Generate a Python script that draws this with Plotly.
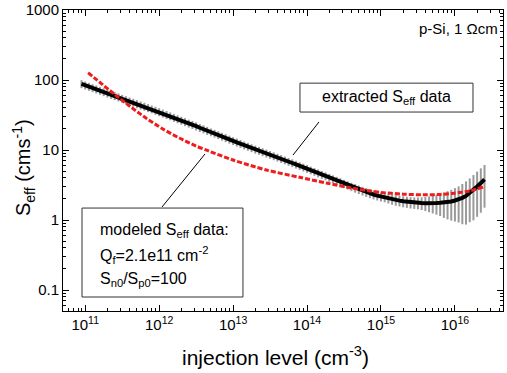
import plotly.graph_objects as go

# ---- data ----
# extracted S_eff: injection level exponents (log10 of cm^-3) and values (cm/s)
meas_exp = [10.95, 11.00, 11.05, 11.10, 11.15, 11.20, 11.25, 11.30, 11.35, 11.40, 11.45, 11.50,
            11.55, 11.60, 11.65, 11.70, 11.75, 11.80, 11.85, 11.90, 11.95, 12.00,
            12.05, 12.10, 12.15, 12.20, 12.25, 12.30, 12.35, 12.40, 12.45, 12.50,
            12.55, 12.60, 12.65, 12.70, 12.75, 12.80, 12.85, 12.90, 12.95, 13.00,
            13.05, 13.10, 13.15, 13.20, 13.25, 13.30, 13.35, 13.40, 13.45, 13.50,
            13.55, 13.60, 13.65, 13.70, 13.75, 13.80, 13.85, 13.90, 13.95, 14.00,
            14.05, 14.10, 14.15, 14.20, 14.25, 14.30, 14.35, 14.40, 14.45, 14.50,
            14.55, 14.60, 14.65, 14.70, 14.75, 14.80, 14.85, 14.90, 14.95, 15.00,
            15.05, 15.10, 15.15, 15.20, 15.25, 15.30, 15.35, 15.40, 15.45, 15.50,
            15.55, 15.60, 15.65, 15.70, 15.75, 15.80, 15.85, 15.90, 15.95, 16.00,
            16.05, 16.10, 16.15, 16.20, 16.25, 16.30, 16.35, 16.40]
meas_seff = [87.9, 84.1, 80.5, 77.1, 73.8, 70.6, 67.6, 64.7, 61.9, 59.3, 56.8, 54.3,
             52.0, 49.8, 47.6, 45.6, 43.6, 41.8, 40.0, 38.3, 36.6, 35.0,
             33.4, 31.9, 30.5, 29.0, 27.7, 26.4, 25.2, 24.0, 23.0, 21.9,
             20.8, 19.9, 18.9, 18.0, 17.2, 16.4, 15.6, 14.9, 14.2, 13.5,
             12.9, 12.3, 11.7, 11.2, 10.7, 10.2, 9.80, 9.38, 8.97, 8.58,
             8.20, 7.84, 7.49, 7.15, 6.83, 6.52, 6.22, 5.93, 5.66, 5.40,
             5.14, 4.90, 4.67, 4.45, 4.24, 4.04, 3.85, 3.66, 3.48, 3.31,
             3.15, 3.00, 2.86, 2.73, 2.61, 2.50, 2.40, 2.31, 2.23, 2.16,
             2.10, 2.04, 1.98, 1.93, 1.89, 1.85, 1.82, 1.79, 1.77, 1.76,
             1.75, 1.74, 1.73, 1.74, 1.75, 1.76, 1.77, 1.80, 1.84, 1.90,
             1.97, 2.07, 2.21, 2.43, 2.69, 3.01, 3.37, 3.80]
meas_err = [11.4, 10.9, 10.5, 10.0, 9.6, 9.2, 8.8, 8.5, 8.1, 7.7, 7.4, 7.0,
            6.8, 6.5, 6.2, 6.0, 5.7, 5.5, 5.2, 4.9, 4.8, 4.6,
            4.3, 4.2, 3.9, 3.8, 3.6, 3.4, 3.3, 3.1, 3.0, 2.9,
            2.7, 2.6, 2.5, 2.3, 2.2, 2.1, 2.0, 1.95, 1.85, 1.75,
            1.69, 1.60, 1.52, 1.46, 1.39, 1.33, 1.27, 1.21, 1.16, 1.10,
            1.05, 1.00, 0.96, 0.91, 0.87, 0.83, 0.79, 0.75, 0.72, 0.69,
            0.65, 0.62, 0.60, 0.57, 0.55, 0.52, 0.49, 0.48, 0.46, 0.44,
            0.42, 0.41, 0.40, 0.38, 0.37, 0.36, 0.35, 0.34, 0.33, 0.32,
            0.31, 0.32, 0.33, 0.33, 0.33, 0.33, 0.33, 0.33, 0.33, 0.34,
            0.36, 0.40, 0.44, 0.50, 0.56, 0.62, 0.70, 0.78, 0.86, 0.95,
            1.05, 1.20, 1.35, 1.50, 1.70, 1.90, 2.10, 2.30]

# modeled S_eff
model_exp = [11.04, 11.38, 11.61, 11.83, 12.05, 12.28, 12.50, 12.66, 13.0, 13.45,
             13.90, 14.28, 14.61, 15.0, 15.3, 15.57, 15.8, 15.97, 16.2, 16.38]
model_seff = [127, 64.6, 41.7, 28.2, 20.0, 14.7, 11.4, 9.77, 7.19, 5.18,
              4.07, 3.34, 2.85, 2.48, 2.34, 2.29, 2.32, 2.40, 2.60, 2.95]

x_decades = [11, 12, 13, 14, 15, 16]
y_ticks = [0.1, 1, 10, 100, 1000]
y_ticktext = ["0.1", "1", "10", "100", "1000"]

meas_x = [10 ** e for e in meas_exp]
model_x = [10 ** e for e in model_exp]

font = "Liberation Sans"

fig = go.Figure()
fig.add_trace(go.Scatter(
    x=meas_x, y=meas_seff, mode="lines",
    line=dict(color="black", width=4),
    error_y=dict(type="data", array=meas_err, color="#9a9a9a", thickness=2, width=0),
    showlegend=False))
fig.add_trace(go.Scatter(
    x=model_x, y=model_seff, mode="lines",
    line=dict(color="#ee1c1c", width=3, dash="5px,2px", shape="spline", smoothing=0.8),
    showlegend=False))

x_minor = [m * 10 ** d for d in range(10, 17) for m in range(2, 10)]
y_minor = [m * 10.0 ** d for d in range(-2, 3) for m in range(2, 10)]

fig.update_xaxes(
    type="log", range=[10.70, 16.65], automargin=False,
    tickmode="array", tickvals=[10 ** d for d in x_decades],
    ticktext=["10<sup>%d</sup>" % d for d in x_decades],
    ticks="inside", ticklen=6, tickwidth=1, tickcolor="black",
    minor=dict(tickmode="array", tickvals=x_minor, ticks="inside", ticklen=3,
               tickcolor="black", showgrid=False),
    showline=True, linecolor="black", linewidth=1, mirror="allticks",
    showgrid=False, zeroline=False,
    tickfont=dict(family=font, size=15, color="black"))
fig.update_yaxes(
    type="log", range=[-1.3, 3.0], automargin=False,
    tickmode="array", tickvals=y_ticks, ticktext=y_ticktext,
    ticks="inside", ticklen=6, tickwidth=1, tickcolor="black",
    minor=dict(tickmode="array", tickvals=y_minor, ticks="inside", ticklen=3,
               tickcolor="black", showgrid=False),
    showline=True, linecolor="black", linewidth=1, mirror="allticks",
    showgrid=False, zeroline=False,
    tickfont=dict(family=font, size=15, color="black"))

# boxes & leader lines (paper coords)
shapes = [
    dict(type="rect", xref="paper", yref="paper", x0=0.5386, x1=0.9318, y0=0.661, y1=0.757,
         line=dict(color="#333", width=1), fillcolor="white"),
    dict(type="rect", xref="paper", yref="paper", x0=0.0432, x1=0.409, y0=0.0465, y1=0.342,
         line=dict(color="#333", width=1), fillcolor="white"),
    dict(type="line", xref="paper", yref="paper", x0=0.5818, y0=0.628, x1=0.5227, y1=0.518,
         line=dict(color="black", width=1)),
    dict(type="line", xref="paper", yref="paper", x0=0.3227, y0=0.5216, x1=0.225, y1=0.3455,
         line=dict(color="black", width=1)),
]
fig.update_layout(shapes=shapes)

ann_font = dict(family=font, size=16, color="black")
annotations = [
    dict(text="extracted S<sub>eff</sub> data", x=0.735, y=0.709, xref="paper", yref="paper",
         showarrow=False, xanchor="center", yanchor="middle", font=ann_font),
    dict(text="modeled S<sub>eff</sub> data:", x=0.0795, y=0.269, xref="paper", yref="paper",
         showarrow=False, xanchor="left", yanchor="middle", font=ann_font),
    dict(text="Q<sub>f</sub>=2.1e11 cm<sup>-2</sup>", x=0.0795, y=0.186, xref="paper", yref="paper",
         showarrow=False, xanchor="left", yanchor="middle", font=ann_font),
    dict(text="S<sub>n0</sub>/S<sub>p0</sub>=100", x=0.0795, y=0.106, xref="paper", yref="paper",
         showarrow=False, xanchor="left", yanchor="middle", font=ann_font),
    dict(text="p-Si, 1 \u03a9cm", x=0.993, y=0.940, xref="paper", yref="paper",
         showarrow=False, xanchor="right", yanchor="middle",
         font=dict(family=font, size=15, color="black")),
    # axis titles
    dict(text="injection level (cm<sup>-3</sup>)", x=0.484, y=-0.150, xref="paper", yref="paper",
         showarrow=False, xanchor="center", yanchor="middle",
         font=dict(family=font, size=21, color="black")),
    dict(text="S<sub>eff</sub> (cms<sup>-1</sup>)", x=-0.0909, y=0.475, xref="paper", yref="paper",
         showarrow=False, xanchor="center", yanchor="middle", textangle=-90,
         font=dict(family=font, size=20, color="black")),
]
fig.update_layout(annotations=annotations)

fig.update_layout(
    width=507, height=373,
    margin=dict(l=63, r=4, t=10, b=62),
    paper_bgcolor="white", plot_bgcolor="white",
    font=dict(family=font, color="black"),
)

fig.write_html("out.html", config={"displayModeBar": False},
               post_script="document.body.style.margin='0px';document.body.style.overflow='hidden';")
